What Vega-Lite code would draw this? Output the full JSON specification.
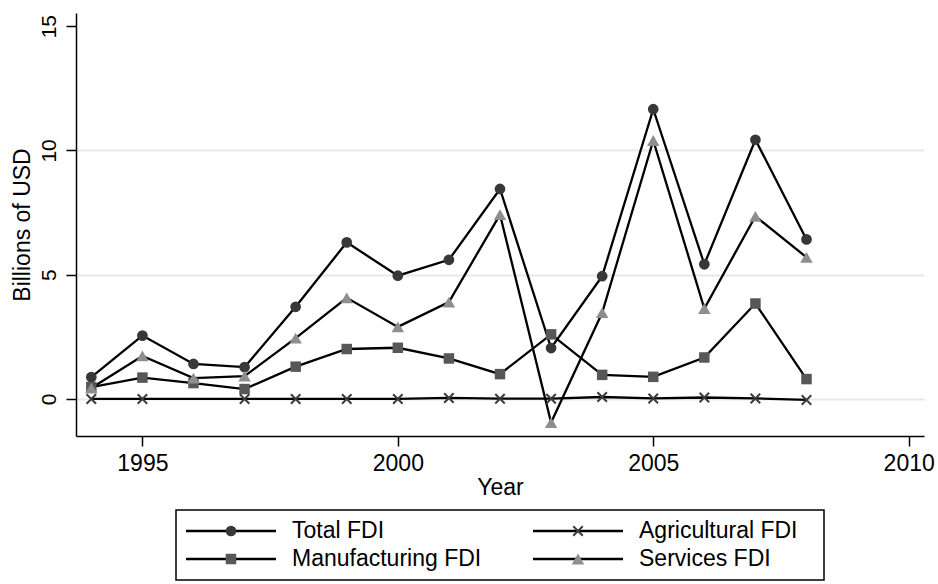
{
  "$schema": "https://vega.github.io/schema/vega-lite/v6.json",
  "padding": {"left": 11, "top": 13, "right": 5, "bottom": 3},
  "background": "white",
  "config": {"font": "Liberation Sans", "view": {"stroke": null}},
  "spacing": 74,
  "center": true,
  "bounds": "flush",
  "datasets": {
    "fdi": [
      {"year": 1994, "series": "Total FDI", "value": 0.88},
      {"year": 1995, "series": "Total FDI", "value": 2.55},
      {"year": 1996, "series": "Total FDI", "value": 1.41},
      {"year": 1997, "series": "Total FDI", "value": 1.28},
      {"year": 1998, "series": "Total FDI", "value": 3.71},
      {"year": 1999, "series": "Total FDI", "value": 6.3},
      {"year": 2000, "series": "Total FDI", "value": 4.96},
      {"year": 2001, "series": "Total FDI", "value": 5.6},
      {"year": 2002, "series": "Total FDI", "value": 8.45},
      {"year": 2003, "series": "Total FDI", "value": 2.05},
      {"year": 2004, "series": "Total FDI", "value": 4.94},
      {"year": 2005, "series": "Total FDI", "value": 11.66},
      {"year": 2006, "series": "Total FDI", "value": 5.42},
      {"year": 2007, "series": "Total FDI", "value": 10.43},
      {"year": 2008, "series": "Total FDI", "value": 6.42},
      {"year": 1994, "series": "Agricultural FDI", "value": 0},
      {"year": 1995, "series": "Agricultural FDI", "value": 0},
      {"year": 1997, "series": "Agricultural FDI", "value": 0},
      {"year": 1998, "series": "Agricultural FDI", "value": 0},
      {"year": 1999, "series": "Agricultural FDI", "value": 0},
      {"year": 2000, "series": "Agricultural FDI", "value": 0},
      {"year": 2001, "series": "Agricultural FDI", "value": 0.04},
      {"year": 2002, "series": "Agricultural FDI", "value": 0.01},
      {"year": 2003, "series": "Agricultural FDI", "value": 0.01},
      {"year": 2004, "series": "Agricultural FDI", "value": 0.08},
      {"year": 2005, "series": "Agricultural FDI", "value": 0.02},
      {"year": 2006, "series": "Agricultural FDI", "value": 0.06},
      {"year": 2007, "series": "Agricultural FDI", "value": 0.02},
      {"year": 2008, "series": "Agricultural FDI", "value": -0.04},
      {"year": 1994, "series": "Manufacturing FDI", "value": 0.48},
      {"year": 1995, "series": "Manufacturing FDI", "value": 0.86},
      {"year": 1996, "series": "Manufacturing FDI", "value": 0.64},
      {"year": 1997, "series": "Manufacturing FDI", "value": 0.4},
      {"year": 1998, "series": "Manufacturing FDI", "value": 1.3},
      {"year": 1999, "series": "Manufacturing FDI", "value": 2.01},
      {"year": 2000, "series": "Manufacturing FDI", "value": 2.06},
      {"year": 2001, "series": "Manufacturing FDI", "value": 1.63},
      {"year": 2002, "series": "Manufacturing FDI", "value": 1.0},
      {"year": 2003, "series": "Manufacturing FDI", "value": 2.6},
      {"year": 2004, "series": "Manufacturing FDI", "value": 0.97},
      {"year": 2005, "series": "Manufacturing FDI", "value": 0.89},
      {"year": 2006, "series": "Manufacturing FDI", "value": 1.67},
      {"year": 2007, "series": "Manufacturing FDI", "value": 3.84},
      {"year": 2008, "series": "Manufacturing FDI", "value": 0.8},
      {"year": 1994, "series": "Services FDI", "value": 0.44},
      {"year": 1995, "series": "Services FDI", "value": 1.73},
      {"year": 1996, "series": "Services FDI", "value": 0.84},
      {"year": 1997, "series": "Services FDI", "value": 0.92},
      {"year": 1998, "series": "Services FDI", "value": 2.45},
      {"year": 1999, "series": "Services FDI", "value": 4.07},
      {"year": 2000, "series": "Services FDI", "value": 2.9},
      {"year": 2001, "series": "Services FDI", "value": 3.9},
      {"year": 2002, "series": "Services FDI", "value": 7.42},
      {"year": 2003, "series": "Services FDI", "value": -0.95},
      {"year": 2004, "series": "Services FDI", "value": 3.47},
      {"year": 2005, "series": "Services FDI", "value": 10.4},
      {"year": 2006, "series": "Services FDI", "value": 3.64},
      {"year": 2007, "series": "Services FDI", "value": 7.35},
      {"year": 2008, "series": "Services FDI", "value": 5.7}
    ],
    "legend": [
      {"series": "Total FDI", "col": 0, "row": 0},
      {"series": "Agricultural FDI", "col": 1, "row": 0},
      {"series": "Manufacturing FDI", "col": 0, "row": 1},
      {"series": "Services FDI", "col": 1, "row": 1}
    ]
  },
  "vconcat": [
    {
      "width": 848,
      "height": 423,
      "data": {"name": "fdi"},
      "encoding": {
        "x": {
          "field": "year", "type": "quantitative",
          "scale": {"domain": [1993.7, 2010.3], "nice": false, "zero": false},
          "axis": {
            "values": [1995, 2000, 2005, 2010], "format": "d", "title": "Year", "grid": false,
            "domainColor": "black", "domainWidth": 1.5, "tickColor": "black", "tickWidth": 1.5, "tickSize": 10,
            "labelFontSize": 23, "labelPadding": 6, "labelColor": "black", "labelFlush": false,
            "titleFontSize": 23, "titleFontWeight": "normal", "titleColor": "black", "titlePadding": 1
          }
        },
        "y": {
          "field": "value", "type": "quantitative",
          "scale": {"domain": [-1.49, 15.53], "nice": false, "zero": false},
          "axis": {
            "values": [0, 5, 10, 15], "title": "Billions of USD", "grid": true,
            "gridColor": {"condition": {"test": "datum.value === 15", "value": "transparent"}, "value": "#e8e8e8"},
            "gridWidth": 2,
            "domainColor": "black", "domainWidth": 1.5, "tickColor": "black", "tickWidth": 1.5, "tickSize": 10,
            "labelFontSize": 21, "labelAngle": -90, "labelAlign": "center", "labelBaseline": "alphabetic",
            "labelPadding": 11, "labelColor": "black",
            "titleFontSize": 23, "titleFontWeight": "normal", "titleColor": "black", "titlePadding": 4
          }
        }
      },
      "layer": [
        {
          "mark": {"type": "line", "color": "black", "strokeWidth": 2.3},
          "encoding": {"detail": {"field": "series"}}
        },
        {
          "transform": [{"filter": "datum.series !== 'Agricultural FDI'"}],
          "mark": {"type": "point", "filled": true, "opacity": 1},
          "encoding": {
            "shape": {"field": "series", "type": "nominal", "legend": null,
              "scale": {"domain": ["Total FDI", "Manufacturing FDI", "Services FDI"], "range": ["circle", "square", "triangle-up"]}},
            "fill": {"field": "series", "type": "nominal", "legend": null,
              "scale": {"domain": ["Total FDI", "Manufacturing FDI", "Services FDI"], "range": ["#383838", "#575757", "#8e8e8e"]}},
            "size": {"field": "series", "type": "nominal", "legend": null,
              "scale": {"type": "ordinal", "domain": ["Total FDI", "Manufacturing FDI", "Services FDI"], "range": [115, 110, 155]}}
          }
        },
        {
          "transform": [{"filter": "datum.series === 'Agricultural FDI'"}],
          "mark": {"type": "point", "filled": false, "shape": "M-1,-1L1,1M-1,1L1,-1", "stroke": "#3c3c3c", "strokeWidth": 2, "size": 90, "opacity": 1}
        }
      ]
    },
    {
      "width": 648,
      "height": 70,
      "view": {"stroke": "black", "strokeWidth": 1.5},
      "data": {"name": "legend"},
      "encoding": {
        "x": {"field": "col", "type": "quantitative", "scale": {"domain": [-0.0288, 1.8386], "nice": false, "zero": false}, "axis": null},
        "y": {"field": "row", "type": "quantitative", "scale": {"domain": [-0.75, 1.75], "nice": false, "zero": false, "reverse": true}, "axis": null}
      },
      "layer": [
        {
          "mark": {"type": "rule", "color": "black", "strokeWidth": 2.3, "xOffset": 0, "x2Offset": 90},
          "encoding": {"x2": {"field": "col"}}
        },
        {
          "transform": [{"filter": "datum.series !== 'Agricultural FDI'"}],
          "mark": {"type": "point", "filled": true, "opacity": 1, "xOffset": 45},
          "encoding": {
            "shape": {"field": "series", "type": "nominal", "legend": null,
              "scale": {"domain": ["Total FDI", "Manufacturing FDI", "Services FDI"], "range": ["circle", "square", "triangle-up"]}},
            "fill": {"field": "series", "type": "nominal", "legend": null,
              "scale": {"domain": ["Total FDI", "Manufacturing FDI", "Services FDI"], "range": ["#383838", "#575757", "#8e8e8e"]}},
            "size": {"field": "series", "type": "nominal", "legend": null,
              "scale": {"type": "ordinal", "domain": ["Total FDI", "Manufacturing FDI", "Services FDI"], "range": [115, 110, 155]}}
          }
        },
        {
          "transform": [{"filter": "datum.series === 'Agricultural FDI'"}],
          "mark": {"type": "point", "filled": false, "shape": "M-1,-1L1,1M-1,1L1,-1", "stroke": "#3c3c3c", "strokeWidth": 2, "size": 90, "opacity": 1, "xOffset": 45}
        },
        {
          "mark": {"type": "text", "align": "left", "baseline": "middle", "dx": 106, "fontSize": 23, "color": "black"},
          "encoding": {"text": {"field": "series"}}
        }
      ]
    }
  ]
}
